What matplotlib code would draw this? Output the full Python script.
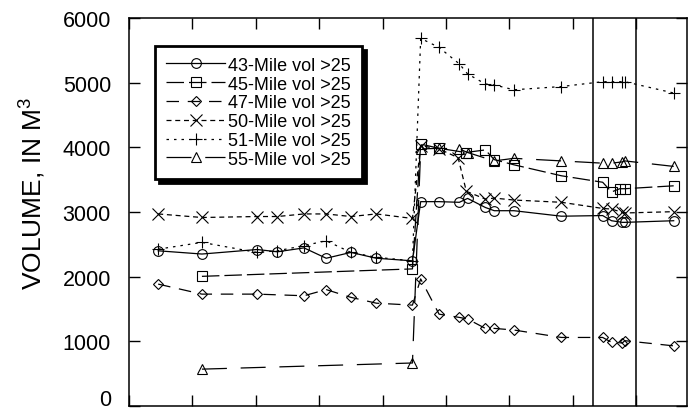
import matplotlib
matplotlib.use("Agg")
import matplotlib.pyplot as plt
from matplotlib.transforms import ScaledTranslation

plt.rcParams['font.family'] = ['Liberation Sans', 'DejaVu Sans']
plt.rcParams['mathtext.fontset'] = 'custom'
plt.rcParams['mathtext.rm'] = 'Liberation Sans'
plt.rcParams['mathtext.default'] = 'regular'

# ---- data ----
x43 = [0.46, 1.15, 2.02, 2.34, 2.76, 3.11, 3.50, 3.90, 4.47,
       4.60, 4.89, 5.21, 5.34, 5.62, 5.76, 6.07, 6.82, 7.47, 7.61, 7.78, 7.82, 8.59]
y43 = [2400, 2350, 2420, 2385, 2445, 2285, 2375, 2285, 2245,
       3160, 3160, 3150, 3210, 3070, 3020, 3020, 2935, 2945, 2865, 2840, 2840, 2865]

x45 = [1.15, 4.47, 4.60, 4.89, 5.31, 5.62, 5.76, 6.07, 6.82, 7.47, 7.61, 7.74, 7.82, 8.59]
y45 = [2005, 2120, 4050, 3985, 3920, 3960, 3810, 3730, 3560, 3460, 3310, 3360, 3360, 3405]

x47 = [0.46, 1.15, 2.02, 2.76, 3.11, 3.50, 3.90, 4.47,
       4.60, 4.89, 5.21, 5.34, 5.62, 5.76, 6.07, 6.82, 7.47, 7.61, 7.78, 7.82, 8.59]
y47 = [1885, 1730, 1730, 1705, 1800, 1680, 1590, 1560,
       1965, 1420, 1370, 1345, 1200, 1200, 1175, 1060, 1060, 985, 975, 1010, 930]

x50 = [0.46, 1.15, 2.02, 2.34, 2.76, 3.11, 3.50, 3.90, 4.47,
       4.60, 4.89, 5.19, 5.32, 5.62, 5.76, 6.07, 6.82, 7.47, 7.61, 7.78, 7.82, 8.59]
y50 = [2970, 2915, 2930, 2930, 2970, 2970, 2930, 2970, 2900,
       4025, 3975, 3840, 3320, 3200, 3215, 3185, 3150, 3055, 3045, 2995, 2985, 3005]

x51 = [0.46, 1.15, 2.02, 2.34, 2.76, 3.11, 3.50, 3.90, 4.47,
       4.60, 4.89, 5.21, 5.34, 5.62, 5.76, 6.07, 6.82, 7.47, 7.61, 7.78, 7.82, 8.59]
y51 = [2425, 2530, 2375, 2400, 2480, 2555, 2375, 2300, 2245,
       5685, 5545, 5290, 5135, 4980, 4965, 4890, 4940, 5015, 5015, 5015, 5015, 4840]

x55 = [1.15, 4.47, 4.60, 4.89, 5.21, 5.34, 5.76, 6.07, 6.82, 7.47, 7.61, 7.78, 7.82, 8.59]
y55 = [570, 665, 3975, 3985, 3975, 3920, 3790, 3830, 3790, 3755, 3755, 3775, 3790, 3705]

labels = ['43-Mile vol >25', '45-Mile vol >25', '47-Mile vol >25',
          '50-Mile vol >25', '51-Mile vol >25', '55-Mile vol >25']
event_x = [7.31, 8.0]
y_ticks = [0, 1000, 2000, 3000, 4000, 5000, 6000]
x_ticks = [0, 1, 2, 3, 4, 5, 6, 7, 8]

# ---- figure ----
fig = plt.figure(figsize=(6.95, 4.14), dpi=100)
ax = fig.add_axes([129 / 695, 7 / 414, 558 / 695, 388 / 414])

common = dict(color='black', lw=0.9, mfc='none', mec='black', mew=0.8)
series = [
    (x43, y43, 'o', 7, None),
    (x45, y45, 's', 7, (14, 4)),
    (x47, y47, 'D', 5.5, (10, 7)),
    (x50, y50, 'x', 8, (4, 3)),
    (x51, y51, '+', 9, (2, 4)),
    (x55, y55, '^', 7.5, (20, 11)),
]
for (xs, ys, m, ms, d), lab in zip(series, labels):
    ln, = ax.plot(xs, ys, marker=m, ms=ms, label=lab, **common)
    if d is not None:
        ln.set_dashes(d)

for ex in event_x:
    ax.axvline(ex, color='black', lw=1.1)

ax.set_xlim(0, 8.8)
ax.set_ylim(0, 6000)
ax.set_yticks(y_ticks)
ax.set_xticks(x_ticks)
ax.set_xticklabels([])
ax.tick_params(axis='both', direction='in', length=8, width=1.0,
               top=True, right=True)
ax.tick_params(axis='y', labelsize=15.5, pad=13)
for s in ax.spines.values():
    s.set_linewidth(1.1)

# lift the "0" label so it stays inside the figure
zero_lab = ax.get_yticklabels()[0]
zero_lab.set_transform(zero_lab.get_transform() +
                       ScaledTranslation(0, 9 / 100, fig.dpi_scale_trans))

ax.set_ylabel('VOLUME, IN M$^{3}$', fontsize=19)
ax.yaxis.set_label_coords(-0.145, 0.55)

leg = ax.legend(loc='upper left', bbox_to_anchor=(0.0466, 0.928),
                borderaxespad=0, fontsize=13, handlelength=3.3,
                handletextpad=0.15, labelspacing=0.1, borderpad=0.6,
                fancybox=False, edgecolor='black', framealpha=1,
                shadow={'ox': 3, 'oy': -3, 'facecolor': 'black',
                        'edgecolor': 'black', 'alpha': 1})
leg.get_frame().set_linewidth(2.0)

fig.savefig('out.png', dpi=100)
